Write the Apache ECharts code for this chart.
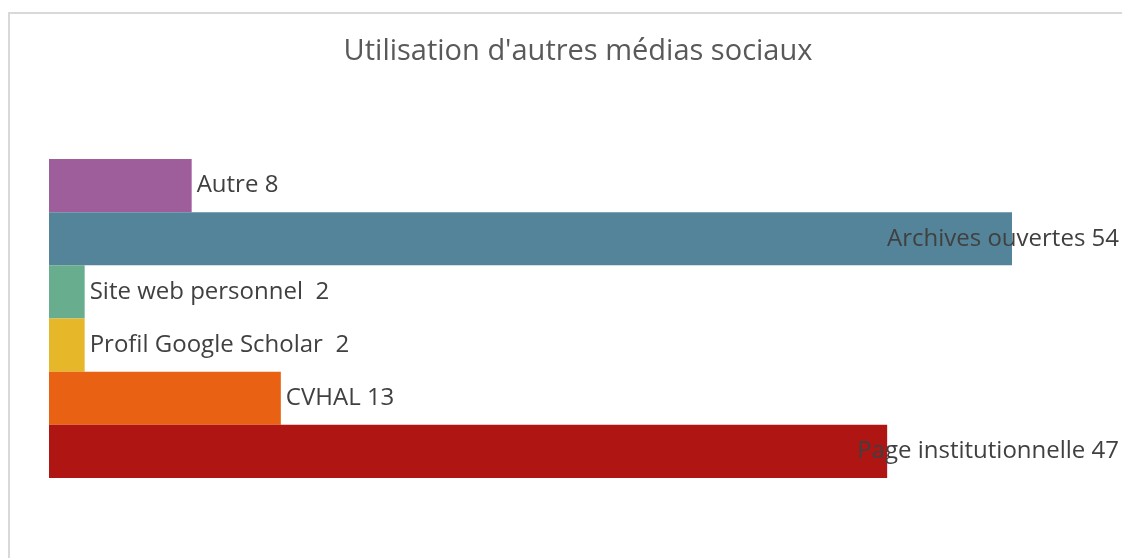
<!DOCTYPE html>
<html>
<head>
<meta charset="utf-8">
<style>
  html, body { margin: 0; padding: 0; background: #fff; }
  #main { width: 1122px; height: 558px; }
</style>
</head>
<body>
<div id="main"></div>
<script src="https://cdn.jsdelivr.net/npm/echarts@6/dist/echarts.min.js"></script>
<script type="text/javascript">
    // données, de haut en bas
    var categories = ['Autre', 'Archives ouvertes', 'Site web personnel ', 'Profil Google Scholar ', 'CVHAL', 'Page institutionnelle'];
    var values = [8, 54, 2, 2, 13, 47];
    var colors = ['#9E5E9B', '#548499', '#68AD8E', '#E6B729', '#E96213', '#AF1513'];

    var myChart = echarts.init(document.getElementById('main'));

    var option = {
        backgroundColor: '#fff',
        title: {
            text: "Utilisation d'autres médias sociaux",
            left: 573,
            top: 32,
            textAlign: 'center',
            textStyle: {
                fontFamily: 'Open Sans',
                fontWeight: 'normal',
                fontSize: 29,
                color: '#595959'
            }
        },
        graphic: [{
            type: 'rect',
            shape: { x: 9, y: 13, width: 1200, height: 600 },
            style: { fill: null, stroke: '#d9d9d9', lineWidth: 2 },
            silent: true
        }],
        grid: {
            left: 49,
            top: 159,
            width: 1070,
            height: 319
        },
        xAxis: {
            type: 'value',
            min: 0,
            max: 60,
            show: false
        },
        yAxis: {
            type: 'category',
            inverse: true,
            data: categories,
            show: false
        },
        series: [{
            type: 'bar',
            barCategoryGap: 0,
            data: values.map(function (v, i) {
                return { value: v, itemStyle: { color: colors[i] } };
            }),
            label: {
                show: true,
                position: 'right',
                distance: 5,
                formatter: '{b} {c}',
                fontFamily: 'Open Sans',
                fontSize: 24,
                color: '#404040'
            },
            labelLayout: function (p) {
                // garder les étiquettes dans le cadre
                var over = p.labelRect.x + p.labelRect.width - 1119;
                return over > 0 ? { dx: -over } : {};
            }
        }]
    };

    myChart.setOption(option);
</script>
</body>
</html>
